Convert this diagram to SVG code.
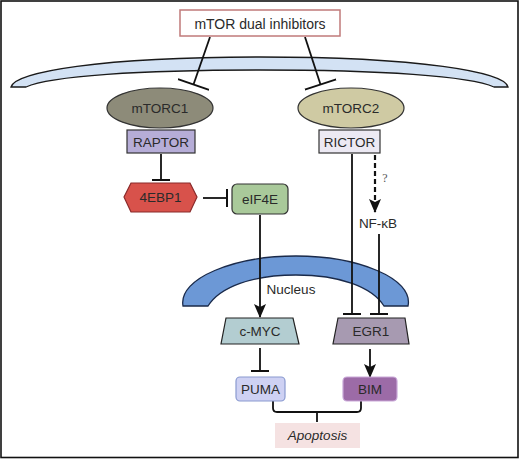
<svg xmlns="http://www.w3.org/2000/svg" width="520" height="459" viewBox="0 0 520 459">
<style>
  text { font-family: "Liberation Sans", Arial, sans-serif; font-size: 13.5px; fill: #2a2a2a; text-anchor: middle; }
  .ln { stroke: #111; stroke-width: 1.8; fill: none; }
  .nd { stroke: #333; stroke-width: 1.2; }
</style>
<defs>
  <marker id="arrow" viewBox="0 0 14 12" refX="13" refY="6" markerWidth="14" markerHeight="12" markerUnits="userSpaceOnUse" orient="auto">
    <path d="M0,0 L14,6 L0,12 L3,6 Z" fill="#111"/>
  </marker>
  <marker id="tee" viewBox="0 0 4 18" refX="2" refY="9" markerWidth="4" markerHeight="18" markerUnits="userSpaceOnUse" orient="auto">
    <path d="M2,0 L2,18" stroke="#111" stroke-width="2"/>
  </marker>
  <marker id="teeL" viewBox="0 0 4 33" refX="2" refY="16.5" markerWidth="4" markerHeight="33" markerUnits="userSpaceOnUse" orient="auto">
    <path d="M2,0 L2,33" stroke="#111" stroke-width="2"/>
  </marker>
</defs>
<rect x="0" y="0" width="520" height="459" fill="#ffffff"/>
<rect x="1" y="1" width="517" height="456.5" fill="none" stroke="#111" stroke-width="1.6"/>

<g id="membrane">
  <path d="M11,87 C15,72 100,57 260,57 C420,57 505,72 508,87 L494,87 C470,76 380,70 260,70 C140,70 50,76 26,87 Z" fill="#d3e2f4" stroke="#1a1a1a" stroke-width="1.3"/>
</g>

<g id="nucleus">
  <path d="M183,306 C178,278 235,256 296,256 C357,256 414,278 408,306 L384,306 C372,287 340,275 296,275 C252,275 220,287 208,306 Z" fill="#6c98d6" stroke="#1a2a4a" stroke-width="1.3"/>
  <text x="291" y="294">Nucleus</text>
</g>

<g id="connectors">
  <line class="ln" x1="210" y1="37" x2="193.5" y2="84.5" marker-end="url(#teeL)"/>
  <line class="ln" x1="305" y1="37" x2="320.5" y2="84.5" marker-end="url(#teeL)"/>
  <line class="ln" x1="161" y1="154" x2="161" y2="180" marker-end="url(#tee)"/>
  <line class="ln" x1="203" y1="198" x2="227" y2="198" marker-end="url(#tee)"/>
  <line class="ln" x1="260" y1="215" x2="260" y2="317" marker-end="url(#arrow)"/>
  <line class="ln" x1="352" y1="154" x2="352" y2="314" marker-end="url(#tee)"/>
  <line x1="375" y1="155" x2="375" y2="212" stroke="#111" stroke-width="2.2" stroke-dasharray="5,3" fill="none" marker-end="url(#arrow)"/>
  <text x="385" y="182" style="font-family:'Liberation Serif',serif;font-size:12px;fill:#555">?</text>
  <line class="ln" x1="379" y1="234" x2="379" y2="314" marker-end="url(#tee)"/>
  <line class="ln" x1="260" y1="348" x2="260" y2="371" marker-end="url(#tee)"/>
  <line class="ln" x1="370" y1="349" x2="370" y2="377" marker-end="url(#arrow)"/>
  <path class="ln" d="M273,401 L273,408 Q273,412 277,412 L357,412 Q361,412 361,408 L361,401 M317,412 L317,422"/>
</g>

<g id="inhibitors">
  <rect x="180" y="10" width="160" height="26" fill="#ffffff" stroke="#c07a7a" stroke-width="1.5"/>
  <text x="260" y="28.5" style="font-size:14px">mTOR dual inhibitors</text>
</g>

<g id="mTORC1">
  <ellipse cx="160" cy="108" rx="53" ry="20" fill="#8d8b79" class="nd"/>
  <text x="160" y="113">mTORC1</text>
</g>
<g id="mTORC2">
  <ellipse cx="351" cy="108" rx="53" ry="20" fill="#cfcaa3" class="nd"/>
  <text x="351" y="113">mTORC2</text>
</g>
<g id="RAPTOR">
  <rect x="127" y="130" width="68" height="23" fill="#b6add7" class="nd"/>
  <text x="161" y="146.5">RAPTOR</text>
</g>
<g id="RICTOR">
  <rect x="319" y="130" width="61" height="23" fill="#ece9f3" class="nd"/>
  <text x="349.5" y="146.5">RICTOR</text>
</g>
<g id="4EBP1">
  <polygon points="124,197 131,183 190,183 197,197 190,212 131,212" fill="#d8524b" stroke="#8a2a2a" stroke-width="1.2"/>
  <text x="160.5" y="202">4EBP1</text>
</g>
<g id="eIF4E">
  <rect x="232" y="184" width="56" height="30" rx="5" fill="#a9c99a" class="nd"/>
  <text x="260" y="203.5">eIF4E</text>
</g>
<g id="NFkB">
  <text x="378" y="228">NF-κB</text>
</g>
<g id="cMYC">
  <polygon points="226,318 293,318 299,344 221,344" fill="#b3cdd1" stroke="#222" stroke-width="1.2"/>
  <text x="260" y="336">c-MYC</text>
</g>
<g id="EGR1">
  <polygon points="338,318 405,318 409,344 333,344" fill="#a79ab1" stroke="#222" stroke-width="1.2"/>
  <text x="371" y="336">EGR1</text>
</g>
<g id="PUMA">
  <rect x="236" y="377" width="49" height="24" rx="4" fill="#ced1f3" stroke="#8a9ad0" stroke-width="1.2"/>
  <text x="260.5" y="394">PUMA</text>
</g>
<g id="BIM">
  <rect x="343" y="377" width="54" height="24" rx="4" fill="#9c6ba7" stroke="#c9a8d8" stroke-width="1.2"/>
  <text x="370" y="394">BIM</text>
</g>
<g id="Apoptosis">
  <rect x="275" y="423" width="85" height="25" fill="#f5e2e2"/>
  <text x="317.5" y="440" style="font-style:italic">Apoptosis</text>
</g>
</svg>
